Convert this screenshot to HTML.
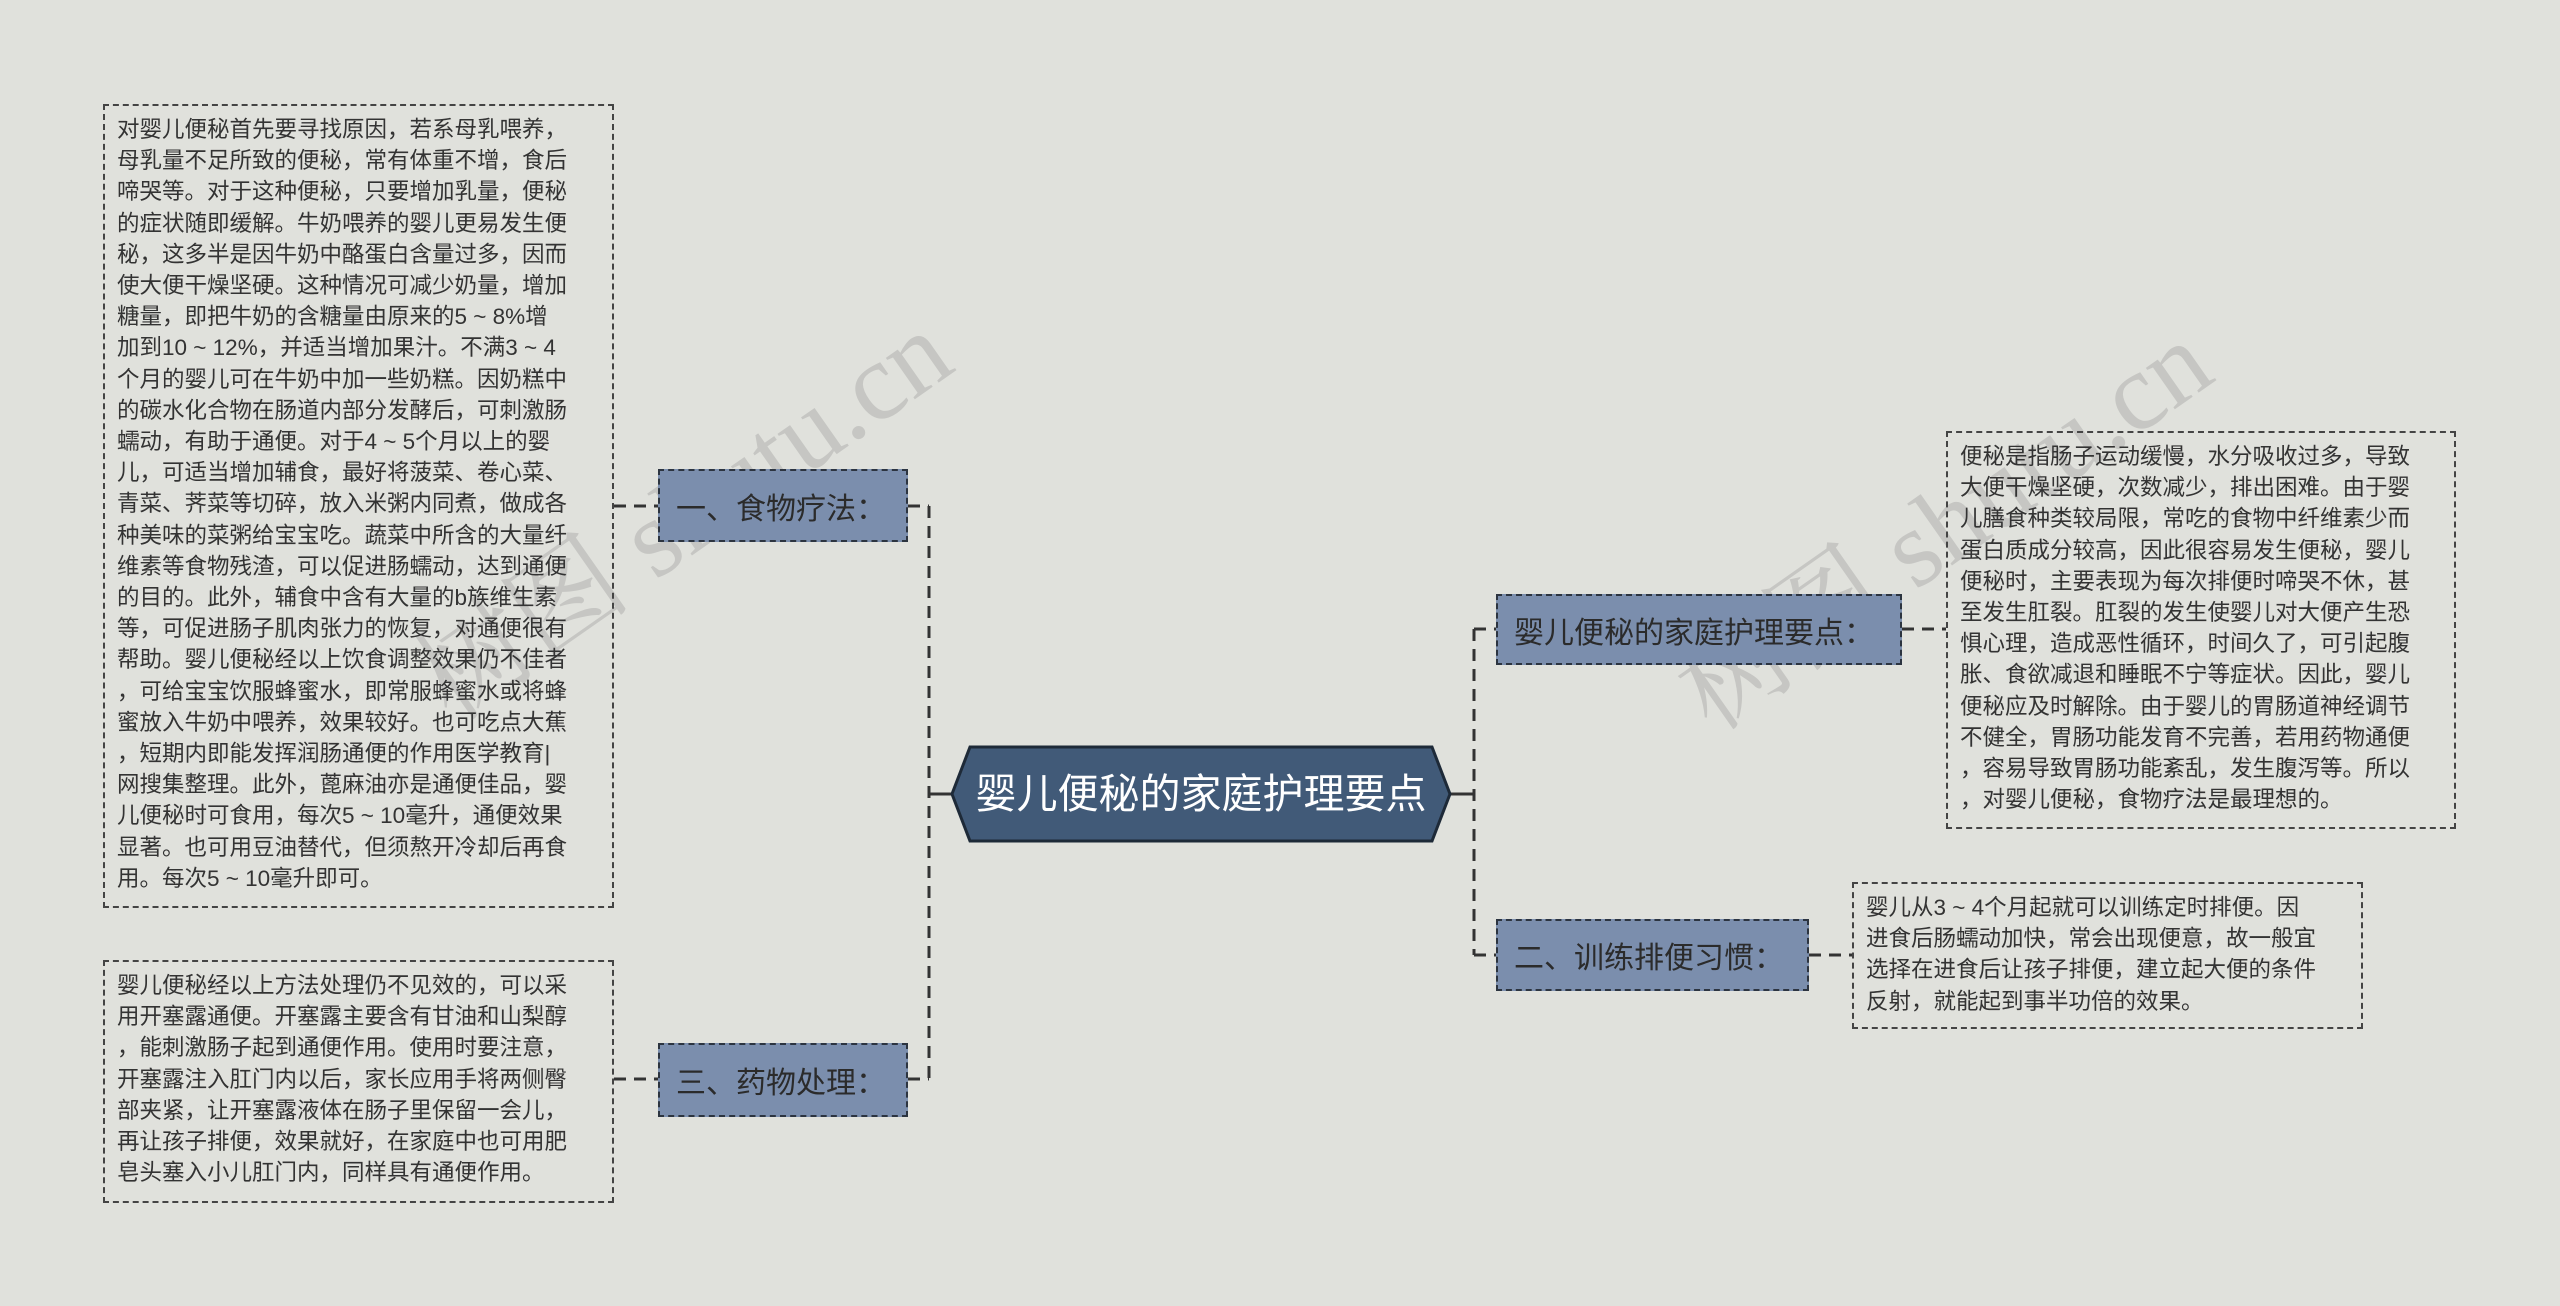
<!DOCTYPE html>
<html><head><meta charset="utf-8"><style>
body{margin:0;width:2560px;height:1306px;background:#e0e1dc;position:relative;overflow:hidden;font-family:"Liberation Sans","Noto Sans CJK SC",sans-serif;}
.box{position:absolute;border:2px dashed #444;box-sizing:border-box;color:#333;font-size:22.5px;line-height:31.2px;padding:8px 0 0 12px;white-space:nowrap;}
.node{position:absolute;background:#7b8ead;border:2px dashed #2c3440;box-sizing:border-box;color:#2b2b2b;font-size:30px;display:flex;align-items:center;padding-left:16px;white-space:nowrap;}
.wm{position:absolute;color:rgba(150,150,150,0.35);font-family:"Liberation Serif","Noto Serif CJK SC",serif;font-size:110px;white-space:nowrap;transform:rotate(-35deg);transform-origin:left top;}
</style></head><body>
<div class="wm" style="left:380px;top:620px">树图 shutu.cn</div>
<div class="wm" style="left:1640px;top:630px">树图 shutu.cn</div>
<svg width="2560" height="1306" style="position:absolute;left:0;top:0">
<g stroke="#333" stroke-width="3" fill="none" stroke-dasharray="12,8">
<path d="M929 506 V1079"/>
<path d="M908 506 H929 M908 1079 H929"/>
<path d="M614 506 H658 M614 1079 H658"/>
<path d="M1474 629 V955"/>
<path d="M1474 629 H1496 M1474 955 H1496"/>
<path d="M1902 629 H1946 M1809 955 H1852"/>
</g>
<g stroke="#333" stroke-width="3"><path d="M929 794 H952 M1450 794 H1474"/></g>
<polygon points="970,747 1432,747 1450,794 1432,841 970,841 952,794" fill="#415a78" stroke="#1e2a38" stroke-width="3"/>
<text x="1201" y="808" fill="#fff" font-size="41" text-anchor="middle" font-family="Liberation Sans, Noto Sans CJK SC, sans-serif">婴儿便秘的家庭护理要点</text>
</svg>
<div class="node" style="left:658px;top:469px;width:250px;height:73px">一、食物疗法：</div>
<div class="node" style="left:658px;top:1043px;width:250px;height:74px">三、药物处理：</div>
<div class="node" style="left:1496px;top:594px;width:406px;height:71px">婴儿便秘的家庭护理要点：</div>
<div class="node" style="left:1496px;top:919px;width:313px;height:72px">二、训练排便习惯：</div>
<div class="box" style="left:103px;top:104px;width:511px;height:804px">对婴儿便秘首先要寻找原因，若系母乳喂养，<br>母乳量不足所致的便秘，常有体重不增，食后<br>啼哭等。对于这种便秘，只要增加乳量，便秘<br>的症状随即缓解。牛奶喂养的婴儿更易发生便<br>秘，这多半是因牛奶中酪蛋白含量过多，因而<br>使大便干燥坚硬。这种情况可减少奶量，增加<br>糖量，即把牛奶的含糖量由原来的5 ~ 8%增<br>加到10 ~ 12%，并适当增加果汁。不满3 ~ 4<br>个月的婴儿可在牛奶中加一些奶糕。因奶糕中<br>的碳水化合物在肠道内部分发酵后，可刺激肠<br>蠕动，有助于通便。对于4 ~ 5个月以上的婴<br>儿，可适当增加辅食，最好将菠菜、卷心菜、<br>青菜、荠菜等切碎，放入米粥内同煮，做成各<br>种美味的菜粥给宝宝吃。蔬菜中所含的大量纤<br>维素等食物残渣，可以促进肠蠕动，达到通便<br>的目的。此外，辅食中含有大量的b族维生素<br>等，可促进肠子肌肉张力的恢复，对通便很有<br>帮助。婴儿便秘经以上饮食调整效果仍不佳者<br>，可给宝宝饮服蜂蜜水，即常服蜂蜜水或将蜂<br>蜜放入牛奶中喂养，效果较好。也可吃点大蕉<br>，短期内即能发挥润肠通便的作用医学教育|<br>网搜集整理。此外，蓖麻油亦是通便佳品，婴<br>儿便秘时可食用，每次5 ~ 10毫升，通便效果<br>显著。也可用豆油替代，但须熬开冷却后再食<br>用。每次5 ~ 10毫升即可。</div>
<div class="box" style="left:103px;top:960px;width:511px;height:243px">婴儿便秘经以上方法处理仍不见效的，可以采<br>用开塞露通便。开塞露主要含有甘油和山梨醇<br>，能刺激肠子起到通便作用。使用时要注意，<br>开塞露注入肛门内以后，家长应用手将两侧臀<br>部夹紧，让开塞露液体在肠子里保留一会儿，<br>再让孩子排便，效果就好，在家庭中也可用肥<br>皂头塞入小儿肛门内，同样具有通便作用。</div>
<div class="box" style="left:1946px;top:431px;width:510px;height:398px">便秘是指肠子运动缓慢，水分吸收过多，导致<br>大便干燥坚硬，次数减少，排出困难。由于婴<br>儿膳食种类较局限，常吃的食物中纤维素少而<br>蛋白质成分较高，因此很容易发生便秘，婴儿<br>便秘时，主要表现为每次排便时啼哭不休，甚<br>至发生肛裂。肛裂的发生使婴儿对大便产生恐<br>惧心理，造成恶性循环，时间久了，可引起腹<br>胀、食欲减退和睡眠不宁等症状。因此，婴儿<br>便秘应及时解除。由于婴儿的胃肠道神经调节<br>不健全，胃肠功能发育不完善，若用药物通便<br>，容易导致胃肠功能紊乱，发生腹泻等。所以<br>，对婴儿便秘，食物疗法是最理想的。</div>
<div class="box" style="left:1852px;top:882px;width:511px;height:147px">婴儿从3 ~ 4个月起就可以训练定时排便。因<br>进食后肠蠕动加快，常会出现便意，故一般宜<br>选择在进食后让孩子排便，建立起大便的条件<br>反射，就能起到事半功倍的效果。</div>
</body></html>
